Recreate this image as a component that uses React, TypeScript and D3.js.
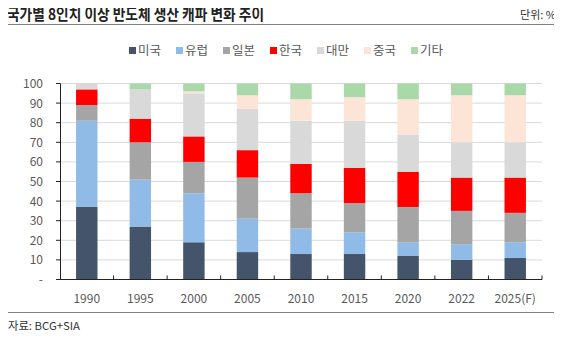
import React from "react";
import * as d3 from "d3";

const years = ["1990", "1995", "2000", "2005", "2010", "2015", "2020", "2022", "2025(F)"];
const seriesNames = ["미국", "유럽", "일본", "한국", "대만", "중국", "기타"];
const usa = [37, 27, 19, 14, 13, 13, 12, 10, 11];
const europe = [44, 24, 25, 17, 13, 11, 7, 8, 8];
const japan = [8, 19, 16, 21, 18, 15, 18, 17, 15];
const korea = [8, 12, 13, 14, 15, 18, 18, 17, 18];
const taiwan = [3, 15, 22, 21, 22, 24, 19, 18, 18];
const china = [0, 0, 1, 7, 11, 12, 18, 24, 24];
const others = [0, 3, 4, 6, 8, 7, 8, 6, 6];
const colors = ["#44546A", "#8FBBE6", "#A5A5A5", "#FF0000", "#D9D9D9", "#FCE4D6", "#A9D9A9"];
const yTicks = [0, 10, 20, 30, 40, 50, 60, 70, 80, 90, 100];

const W = 562;
const H = 339;
const font = "'Noto Sans CJK KR', 'Noto Sans', sans-serif";

export default function App() {
  const values = [usa, europe, japan, korea, taiwan, china, others];
  const rows = years.map((y, i) => {
    const r: any = { year: y };
    seriesNames.forEach((s, k) => (r[s] = values[k][i]));
    return r;
  });
  const stacked = d3.stack().keys(seriesNames)(rows);

  const x = d3.scaleBand().domain(years).range([60, 542]).paddingInner(0.6).paddingOuter(0.3);
  const xb = d3.scaleBand().domain(years).range([60, 542]);
  const y = d3.scaleLinear().domain([0, 100]).range([279.5, 83.5]);

  return (
    <div style={{ margin: -8 }}>
      <svg width={W} height={H} style={{ display: "block", background: "#fff" }}>
        <text x={7} y={20} fontFamily={font} fontWeight="bold" fontSize={16} fill="#222" textLength={257} lengthAdjust="spacingAndGlyphs">
          국가별 8인치 이상 반도체 생산 캐파 변화 추이
        </text>
        <text x={556} y={19} textAnchor="end" fontFamily={font} fontSize={11} fill="#333">
          단위: %
        </text>
        <line x1={0} x2={562} y1={24.5} y2={24.5} stroke="#7F7F7F" strokeWidth={1} />

        {/* legend */}
        {seriesNames.map((s, k) => {
          const lx = 129 + k * 47;
          return (
            <g key={s}>
              <rect x={lx} y={47} width={7} height={7} fill={colors[k]} />
              <text x={lx + 9} y={55} fontFamily={font} fontSize={12.5} fill="#595959">
                {s}
              </text>
            </g>
          );
        })}

        {/* gridlines */}
        {yTicks.filter((t) => t > 0).map((t) => (
          <line key={t} x1={60} x2={542} y1={y(t)} y2={y(t)} stroke="#D9D9D9" strokeWidth={1} />
        ))}

        {/* bars */}
        {stacked.map((layer, k) => (
          <g key={layer.key} fill={colors[k]}>
            {layer.map((d, i) =>
              d[1] - d[0] > 0 ? (
                <rect key={i} x={x(years[i])} width={x.bandwidth()} y={y(d[1])} height={y(d[0]) - y(d[1])} />
              ) : null
            )}
          </g>
        ))}

        {/* y axis */}
        <line x1={60.5} x2={60.5} y1={y(100)} y2={y(0)} stroke="#222" strokeWidth={1} />
        {yTicks.map((t) => (
          <g key={t}>
            <line x1={56} x2={60.5} y1={y(t)} y2={y(t)} stroke="#222" strokeWidth={1} />
            <text x={43} y={y(t) + 4.5} textAnchor="end" fontFamily={font} fontSize={12} fill="#595959">
              {t === 0 ? "-" : t}
            </text>
          </g>
        ))}

        {/* x axis */}
        <line x1={60} x2={542} y1={y(0)} y2={y(0)} stroke="#222" strokeWidth={1} />
        {years.map((yr) => (
          <line key={"t" + yr} x1={(xb(yr) as number) + xb.bandwidth()} x2={(xb(yr) as number) + xb.bandwidth()} y1={y(0) - 4} y2={y(0)} stroke="#222" strokeWidth={1} />
        ))}
        {years.map((yr) => (
          <text key={yr} x={(x(yr) as number) + x.bandwidth() / 2} y={303} textAnchor="middle" fontFamily={font} fontSize={12} fill="#595959">
            {yr}
          </text>
        ))}

        <line x1={0} x2={562} y1={312.5} y2={312.5} stroke="#7F7F7F" strokeWidth={1} />
        <text x={8} y={330} fontFamily={font} fontSize={11} fill="#333" textLength={72} lengthAdjust="spacingAndGlyphs">
          자료: BCG+SIA
        </text>
      </svg>
    </div>
  );
}
